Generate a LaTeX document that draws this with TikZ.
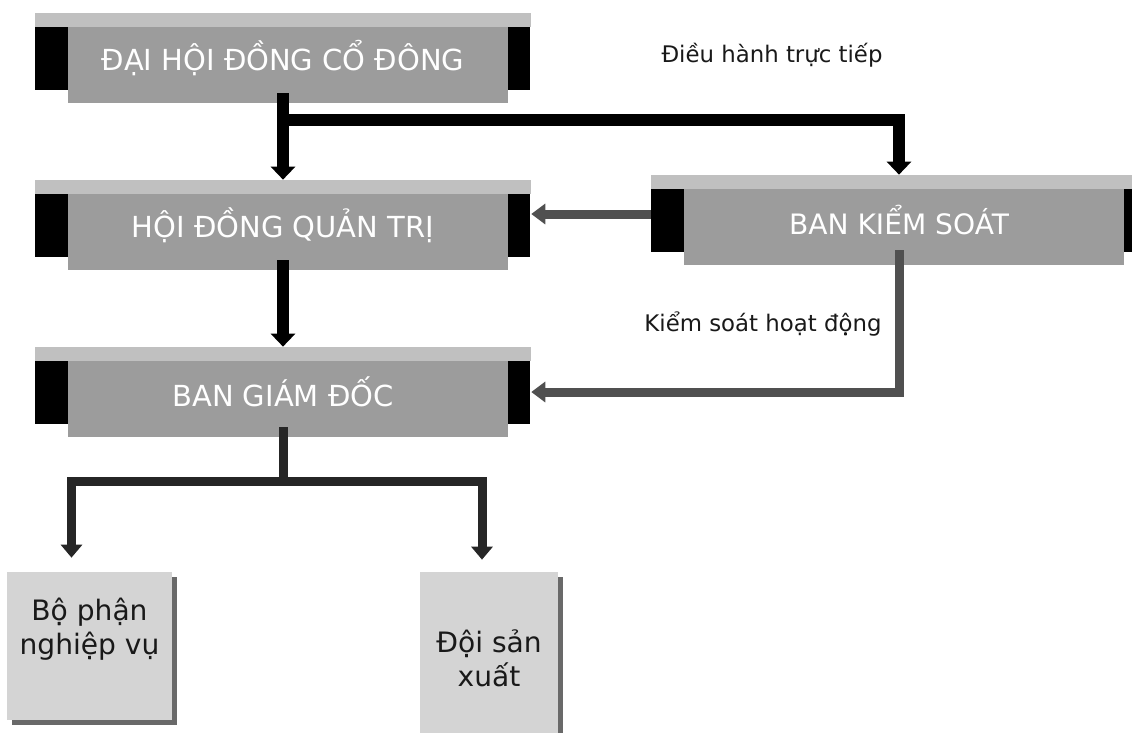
\documentclass[tikz,border=0pt]{standalone}
\usepackage{fontspec}
\setmainfont{DejaVu Sans}
\usepackage{tikz}
\usetikzlibrary{arrows.meta, calc, positioning, shadows}
\definecolor{stripgray}{RGB}{192,192,192}
\definecolor{boxgray}{RGB}{156,156,156}
\definecolor{subgray}{RGB}{212,212,212}
\definecolor{shadowgray}{RGB}{105,105,105}
\definecolor{ctlgray}{RGB}{80,80,80}

\begin{document}
\begin{tikzpicture}[
        x=0.02cm, y=-0.02cm,
        bigbox/.style={minimum width=9.92cm, minimum height=1.8cm, inner sep=0pt, text=white,
            font=\fontsize{16.5}{19}\selectfont,
            path picture={
                \fill[stripgray] (path picture bounding box.north west) rectangle ($(path picture bounding box.north east)+(0,14)$);
                \fill[boxgray] ($(path picture bounding box.north west)+(33,14)$) rectangle ($(path picture bounding box.south east)+(-23,0)$);
                \fill[black] ($(path picture bounding box.north west)+(0,14)$) rectangle ($(path picture bounding box.south west)+(33,-13)$);
                \fill[black] ($(path picture bounding box.north east)+(-23,14)$) rectangle ($(path picture bounding box.south east)+(-1,-13)$);
            }},
        subbox/.style={fill=subgray, inner sep=0pt, align=center, text=black!90,
            font=\fontsize{16}{19.3}\selectfont,
            drop shadow={shadow xshift=0.1cm, shadow yshift=-0.1cm, fill=shadowgray, opacity=1}},
        lbl/.style={font=\fontsize{13}{15}\selectfont, text=black!90},
        mainline/.style={line width=0.24cm, black},
        mainarrow/.style={mainline, -{Triangle[width=0.48cm, length=0.26cm]}},
        subline/.style={line width=0.18cm, black!85},
        subarrow/.style={subline, -{Triangle[width=0.42cm, length=0.26cm]}},
        ctlarrow/.style={line width=0.18cm, ctlgray, -{Triangle[width=0.4cm, length=0.28cm]}}
    ]
    \useasboundingbox (0,0) rectangle (1132,733);

    \node[bigbox] (dhcd) at (283,58) {ĐẠI HỘI ĐỒNG CỔ ĐÔNG};
    \node[bigbox] (hdqt) at (283,225) {HỘI ĐỒNG QUẢN TRỊ};
    \node[bigbox] (bgd) at (283,392) {BAN GIÁM ĐỐC};
    \node[bigbox, font=\fontsize{16}{19}\selectfont] (bks) at (899,220) {BAN KIỂM SOÁT};

    \node[subbox, minimum width=3.3cm, minimum height=2.96cm, text depth=0.8cm] (bpnv) at (89.5,646) {Bộ phận\\nghiệp vụ};
    \node[subbox, minimum width=2.76cm, minimum height=3.44cm] (dsx) at (489,658) {Đội sản\\xuất};

    \node[lbl] (dieuhanh) at (772,55) {Điều hành trực tiếp};
    \node[lbl] (kiemsoat) at (763,324) {Kiểm soát hoạt động};

    \coordinate (split1) at (283,120);
    \coordinate (split2) at (283,481);
    \coordinate (ksin) at ([yshift=0.12cm]bks.west);

    \draw[mainline] ([yshift=0.2cm]dhcd.south) -- (split1);
    \draw[mainarrow] (split1) -- (hdqt.north);
    \draw[mainarrow] (split1) -| (bks.north);
    \draw[mainarrow] ([yshift=0.2cm]hdqt.south) -- (bgd.north);
    \draw[ctlarrow] (ksin) -- (ksin -| hdqt.east);
    \draw[ctlarrow] ([yshift=0.3cm]bks.south) |- (bgd.east);
    \draw[subline] ([yshift=0.2cm]bgd.south) -- (split2);
    \draw[subarrow] (split2) -| ([xshift=-0.36cm, yshift=0.28cm]bpnv.north);
    \draw[subarrow] (split2) -| ([xshift=-0.14cm, yshift=0.24cm]dsx.north);
\end{tikzpicture}
\end{document}
